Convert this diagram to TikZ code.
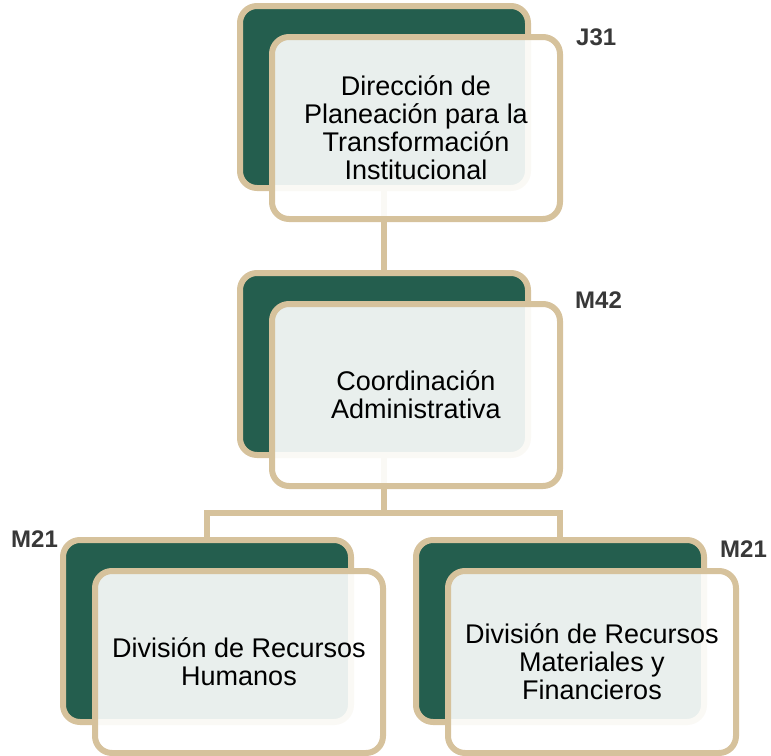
\documentclass[tikz,border=0pt]{standalone}
\usepackage{fontspec}
\setmainfont{Liberation Sans}
\definecolor{tanline}{HTML}{D6C29C}
\definecolor{dkgreen}{HTML}{245E4E}
\definecolor{lbl}{HTML}{383838}
\tikzset{
 backbox/.style={draw=tanline, line width=6pt, fill=dkgreen, rounded corners=17pt, minimum width=288pt, minimum height=182pt, inner sep=0pt},
 frontbox/.style={draw=tanline, line width=6pt, fill=white, fill opacity=0.9, text opacity=1, rounded corners=17pt, minimum width=288pt, minimum height=182pt, inner sep=0pt, align=center, font=\fontsize{27}{28}\selectfont},
 link/.style={draw=tanline, line width=6pt},
 codelabel/.style={font=\fontsize{24}{24}\selectfont\bfseries, text=lbl, inner sep=0pt, anchor=base west}
}
\begin{document}
\begin{tikzpicture}[x=1pt,y=-1pt]
\useasboundingbox (0,0) rectangle (771,755);
% back boxes
\node[backbox] (b1) at (384,97) {};
\node[backbox] (b2) at (384,364) {};
\node[backbox] (b3) at (207,631) {};
\node[backbox] (b4) at (560,631) {};
% connectors
\coordinate (jl) at (207,513);
\coordinate (jr) at (560,513);
\draw[link] (b1.south) -- (b2.north);
\draw[link] (b2.south) -- (b2.south |- jl);
\draw[link] (b3.north) |- (jr) -- (b4.north);
% front boxes
\node[frontbox] (f1) at (416,128) {Dirección de\\Planeación para la\\Transformación\\Institucional};
\node[frontbox] (f2) at (416,395) {Coordinación\\Administrativa};
\node[frontbox] (f3) at (239,662) {División de Recursos\\Humanos};
\node[frontbox] (f4) at (592,662) {División de Recursos\\Materiales y\\Financieros};
% labels
\node[codelabel] (l1) at (576,45) {J31};
\node[codelabel] (l2) at (575,308) {M42};
\node[codelabel] (l3) at (11,547) {M21};
\node[codelabel] (l4) at (720,557) {M21};
\end{tikzpicture}
\end{document}
